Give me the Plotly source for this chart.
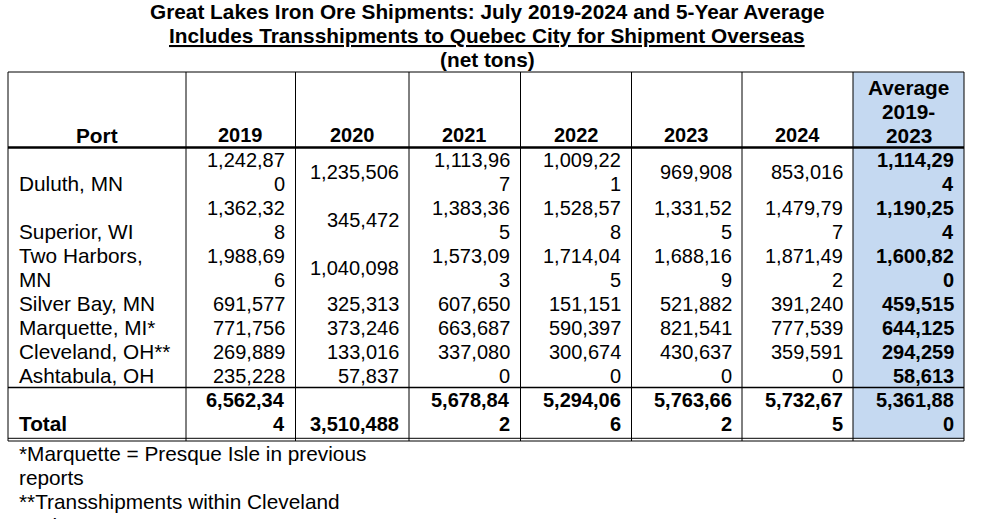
import plotly.graph_objects as go

# ---------------- data ----------------
title = "Great Lakes Iron Ore Shipments: July 2019-2024 and 5-Year Average"
subtitle = "Includes Transshipments to Quebec City for Shipment Overseas"
unit_note = "(net tons)"
port_header = "Port"
avg_header = ["Average", "2019-", "2023"]
years = ["2019", "2020", "2021", "2022", "2023", "2024"]
ports = ["Duluth, MN", "Superior, WI", "Two Harbors, MN", "Silver Bay, MN",
         "Marquette, MI*", "Cleveland, OH**", "Ashtabula, OH"]
v2019 = [1242870, 1362328, 1988696, 691577, 771756, 269889, 235228]
v2020 = [1235506, 345472, 1040098, 325313, 373246, 133016, 57837]
v2021 = [1113967, 1383365, 1573093, 607650, 663687, 337080, 0]
v2022 = [1009221, 1528578, 1714045, 151151, 590397, 300674, 0]
v2023 = [969908, 1331525, 1688169, 521882, 821541, 430637, 0]
v2024 = [853016, 1479797, 1871492, 391240, 777539, 359591, 0]
avg_2019_2023 = [1114294, 1190254, 1600820, 459515, 644125, 294259, 58613]
total_label = "Total"
totals = [6562344, 3510488, 5678842, 5294066, 5763662, 5732675]
avg_total = 5361880
footnotes = ["*Marquette = Presque Isle in previous", "reports",
             "**Transshipments within Cleveland", "Harbor"]

# ---------------- layout / style ----------------
W, H = 990, 519
FONT = "Liberation Sans, Arial, sans-serif"
FS = 20        # numbers
FS_TXT = 20.8  # words
LINE = 24
BLUE = "#C5D9F1"
col_edges = [8, 186, 295.5, 409, 520.5, 631.5, 742, 853, 964]
col_max_chars = [8, 9, 8, 8, 8, 8, 8]   # cell wrap width (chars) per numeric column
port_wrap = {"Two Harbors, MN": ["Two Harbors,", "MN"]}
table_top = 72
head_bottom = 147.5
pad_r = 9.5
pad_l = 9.5

annotations = []
shapes = []


def text(x, y, s, anchor="right", bold=False, size=FS):
    annotations.append(dict(
        x=x, y=y, xref="x", yref="y", text=(f"<b>{s}</b>" if bold else s),
        showarrow=False, xanchor=anchor, yanchor="middle", borderpad=0,
        font=dict(family=FONT, size=size, color="#000000")))


def split_num(v, n):
    s = f"{v:,}"
    return [s[i:i + n] for i in range(0, len(s), n)]


def line_y(row_top, k):
    return row_top + LINE * k + LINE / 2


# titles
cx = (col_edges[0] + col_edges[-1]) / 2 + 1
text(cx, 11.5, title, anchor="center", bold=True, size=FS_TXT)
text(cx, 35.5, f"<u>{subtitle}</u>", anchor="center", bold=True, size=FS_TXT)
text(cx, 59.5, unit_note, anchor="center", bold=True, size=FS_TXT)

# header
hb_line = head_bottom - LINE / 2 - 0.5
text((col_edges[0] + col_edges[1]) / 2, hb_line, port_header, anchor="center", bold=True, size=FS_TXT)
for j, yr in enumerate(years):
    text((col_edges[j + 1] + col_edges[j + 2]) / 2, hb_line, yr, anchor="center", bold=True)
for k, s in enumerate(avg_header):
    text((col_edges[7] + col_edges[8]) / 2, hb_line - LINE * (len(avg_header) - 1 - k), s,
         anchor="center", bold=True, size=FS_TXT)

# body rows
series = [v2019, v2020, v2021, v2022, v2023, v2024, avg_2019_2023]
row_top = head_bottom
for i, port in enumerate(ports):
    cells = [split_num(series[j][i], col_max_chars[j]) for j in range(len(series))]
    plines = port_wrap.get(port, [port])
    n = max([len(plines)] + [len(c) for c in cells])
    for k, s in enumerate(plines):
        text(col_edges[0] + pad_l, line_y(row_top, n - len(plines) + k), s, anchor="left", size=FS_TXT)
    for j, c in enumerate(cells):
        off = (n - len(c)) / 2
        for k, s in enumerate(c):
            text(col_edges[j + 2] - pad_r, line_y(row_top, off + k), s,
                 anchor="right", bold=(j == len(series) - 1))
    row_top += n * LINE

total_line_y = row_top
# total row
tcells = [split_num(totals[j], col_max_chars[j]) for j in range(len(totals))]
tcells.append(split_num(avg_total, col_max_chars[-1]))
n = max(len(c) for c in tcells)
text(col_edges[0] + pad_l, line_y(row_top, n - 1), total_label, anchor="left", bold=True, size=FS_TXT)
for j, c in enumerate(tcells):
    for k, s in enumerate(c):
        text(col_edges[j + 2] - pad_r, line_y(row_top, n - len(c) + k), s, anchor="right", bold=True)
row_top += n * LINE
bottom1 = row_top + 2.8
bottom2 = bottom1 + 2.7

# footnotes
for k, s in enumerate(footnotes):
    y = line_y(bottom2, k)
    if y < H:
        text(col_edges[0] + pad_l, y, s, anchor="left", size=FS_TXT)
    else:
        annotations.append(dict(
            x=col_edges[0] + pad_l, y=1 - y / H, xref="x", yref="paper", text=s,
            showarrow=False, xanchor="left", yanchor="middle", borderpad=0,
            font=dict(family=FONT, size=FS_TXT, color="#000000")))

# shapes: fill, grid
shapes.append(dict(type="rect", x0=col_edges[7], x1=col_edges[8], y0=table_top, y1=bottom1,
                   fillcolor=BLUE, line=dict(width=0), layer="below"))
blk = dict(color="#000000")
for x in col_edges:
    shapes.append(dict(type="line", x0=x, x1=x, y0=table_top, y1=bottom2, line=dict(width=1, **blk)))
shapes.append(dict(type="line", x0=col_edges[0], x1=col_edges[-1], y0=table_top, y1=table_top,
                   line=dict(width=1, **blk)))
shapes.append(dict(type="line", x0=col_edges[0], x1=col_edges[-1], y0=head_bottom, y1=head_bottom,
                   line=dict(width=2.5, **blk)))
shapes.append(dict(type="line", x0=col_edges[0], x1=col_edges[-1], y0=total_line_y, y1=total_line_y,
                   line=dict(width=1.5, **blk)))
for yb in (bottom1, bottom2):
    shapes.append(dict(type="line", x0=col_edges[0], x1=col_edges[-1], y0=yb, y1=yb,
                       line=dict(width=1, **blk)))

fig = go.Figure()
fig.add_trace(go.Scatter(x=[0, W], y=[0, H], mode="markers", marker=dict(opacity=0),
                         hoverinfo="skip", showlegend=False))
fig.update_layout(
    width=W, height=H, margin=dict(l=0, r=0, t=0, b=0),
    paper_bgcolor="white", plot_bgcolor="white",
    xaxis=dict(range=[0, W], visible=False, fixedrange=True),
    yaxis=dict(range=[H, 0], visible=False, fixedrange=True),
    annotations=annotations, shapes=shapes, showlegend=False,
)
fig.write_html("out.html", config={"displayModeBar": False},
               post_script="document.body.style.margin='0';document.body.style.overflow='hidden';")
